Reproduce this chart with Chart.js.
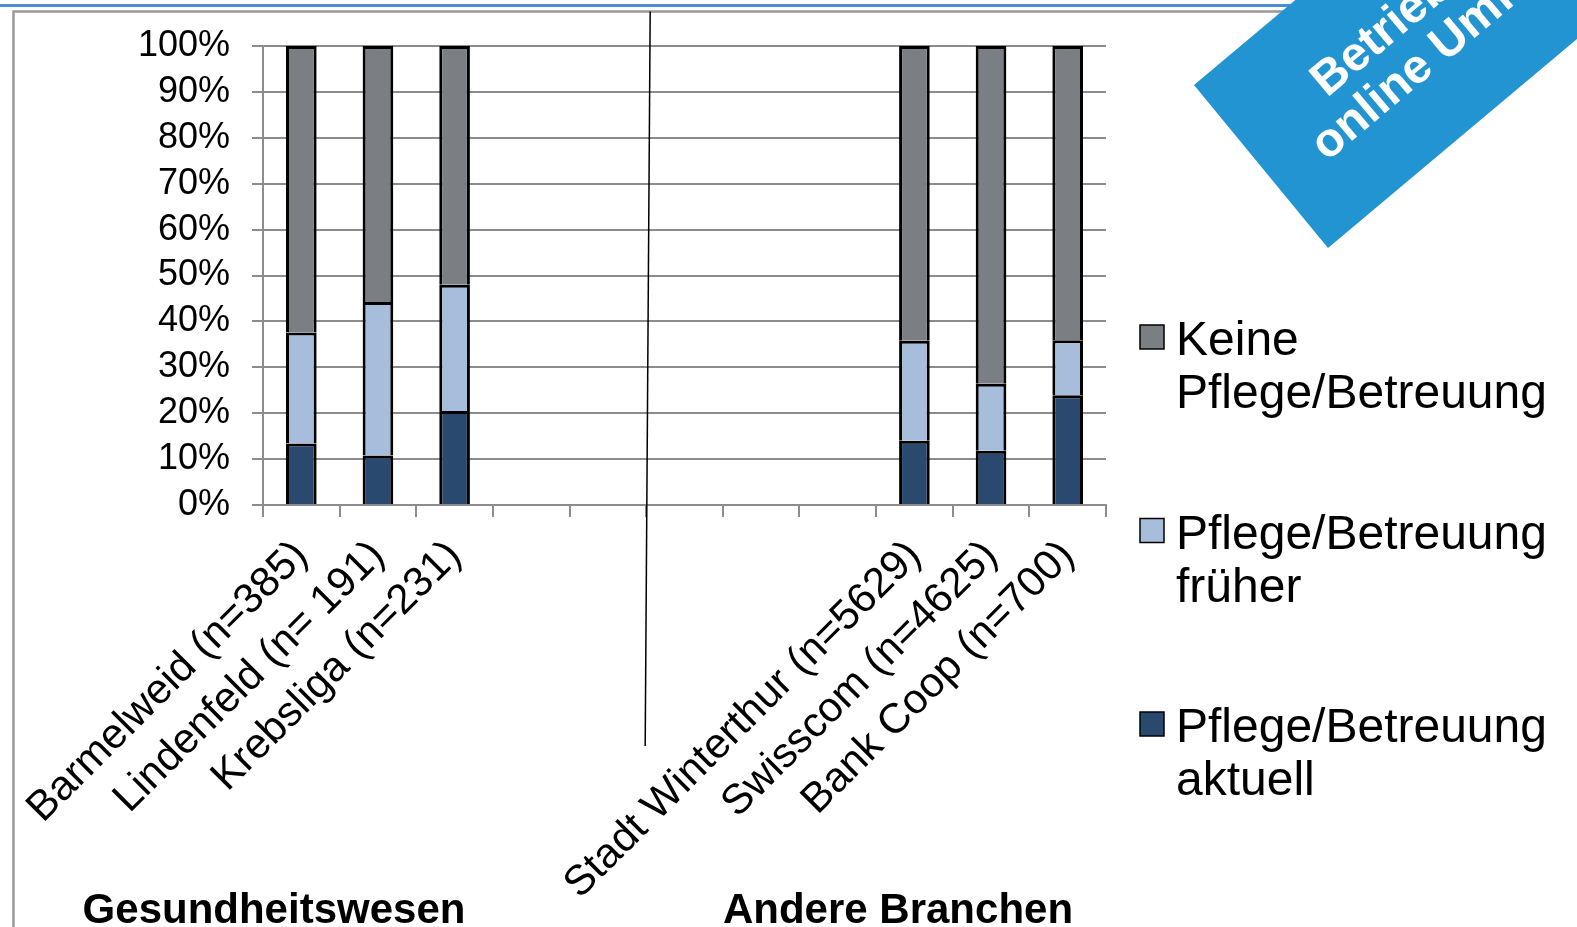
<!DOCTYPE html>
<html>
<head>
<meta charset="utf-8">
<script src="https://cdn.jsdelivr.net/npm/chart.js@4.4.1/dist/chart.umd.min.js"></script>
<style>
  html, body { margin: 0; padding: 0; background: #fff; }
  #wrap { position: relative; width: 1577px; height: 927px; }
</style>
</head>
<body>
<div id="wrap"><canvas id="chart"></canvas></div>
<script>
// Kategorien - die leeren Plätze trennen die beiden Gruppen
const categories = ['Barmelweid (n=385)', 'Lindenfeld (n= 191)', 'Krebsliga (n=231)', '', '', '', '', '',
    'Stadt Winterthur (n=5629)', 'Swisscom (n=4625)', 'Bank Coop (n=700)'];
const seriesNames = ['Pflege/Betreuung aktuell', 'Pflege/Betreuung früher', 'Keine Pflege/Betreuung'];
const seriesColors = ['#2a496e', '#a6bddb', '#7b7e83'];

// Werte in Prozent
const aktuell = [13.4, 10.8, 20.5, null, null, null, null, null, 14.0, 11.8, 23.9];
const frueher = [24.2, 33.4, 27.5, null, null, null, null, null, 21.8, 14.6, 12.0];
const keine   = [62.4, 55.8, 52.0, null, null, null, null, null, 64.2, 73.6, 64.1];

const groupNames = ['Gesundheitswesen', 'Andere Branchen'];
const bannerLines = ['Betriebliche', 'online Umfrage'];

const FONT = '"Liberation Sans", Arial, sans-serif';
Chart.defaults.font.family = FONT;
Chart.defaults.color = '#000';

function wrapText(ctx, text, maxWidth) {
    const words = text.split(' ');
    const lines = [];
    let line = '';
    words.forEach(w => {
        const test = line ? line + ' ' + w : w;
        if (line && ctx.measureText(test).width > maxWidth) {
            lines.push(line);
            line = w;
        } else {
            line = test;
        }
    });
    if (line) lines.push(line);
    return lines;
}

const decor = {
    id: 'decor',
    beforeDraw(chart) {
        const ctx = chart.ctx;
        ctx.save();
        ctx.fillStyle = '#fff';
        ctx.fillRect(0, 0, chart.width, chart.height);
        // blaue Linie oben
        ctx.fillStyle = '#4a8fd4';
        ctx.fillRect(0, 4, chart.width, 3);
        // grauer Rahmen
        ctx.strokeStyle = '#999';
        ctx.lineWidth = 2.5;
        ctx.beginPath();
        ctx.moveTo(chart.width, 11.5);
        ctx.lineTo(13.5, 11.5);
        ctx.lineTo(13.5, chart.height);
        ctx.stroke();
        ctx.restore();
    },
    afterDraw(chart) {
        const ctx = chart.ctx;
        const xs = chart.scales.x;
        ctx.save();

        // Trennlinie zwischen den Gruppen
        const xd = xs.getPixelForValue(4.5);
        ctx.strokeStyle = '#000';
        ctx.lineWidth = 1.5;
        ctx.beginPath();
        ctx.moveTo(xd + 4, 11.5);
        ctx.lineTo(xd - 1, 746);
        ctx.stroke();

        // Gruppentitel
        ctx.font = 'bold 42px ' + FONT;
        ctx.fillStyle = '#000';
        ctx.textAlign = 'center';
        ctx.textBaseline = 'alphabetic';
        ctx.fillText(groupNames[0], 274, 923);
        ctx.fillText(groupNames[1], 898, 923);

        // Legende (umgekehrte Reihenfolge)
        ctx.font = '48px ' + FONT;
        ctx.textAlign = 'left';
        [2, 1, 0].forEach((di, k) => {
            const ds = chart.data.datasets[di];
            const base = 355 + k * 193.5;
            ctx.fillStyle = ds.backgroundColor;
            ctx.fillRect(1140, base - 30, 24, 24);
            ctx.strokeStyle = '#000';
            ctx.lineWidth = 1.5;
            ctx.strokeRect(1140, base - 30, 24, 24);
            ctx.fillStyle = '#000';
            wrapText(ctx, ds.label, 395).forEach((ln, j) => {
                ctx.fillText(ln, 1176, base + j * 53);
            });
        });

        // blaues Band oben rechts
        const a = 40 * Math.PI / 180;
        const c = Math.cos(a), s = Math.sin(a);
        ctx.fillStyle = '#2294d2';
        ctx.beginPath();
        ctx.moveTo(1194, 85);
        ctx.lineTo(1328, 248);
        ctx.lineTo(1328 + 700 * c, 248 - 700 * s);
        ctx.lineTo(1194 + 700 * c, 85 - 700 * s);
        ctx.closePath();
        ctx.fill();

        ctx.translate(1327, 98);
        ctx.rotate(-a);
        ctx.font = 'bold 48px ' + FONT;
        ctx.fillStyle = '#fff';
        ctx.textAlign = 'left';
        ctx.fillText(bannerLines[0], 0, 0);
        ctx.fillText(bannerLines[1], -41, 49);
        ctx.restore();
    }
};

const datasets = [aktuell, frueher, keine].map((vals, i) => ({
    label: seriesNames[i],
    data: vals,
    backgroundColor: seriesColors[i],
    borderColor: '#000',
    borderWidth: 3,
    barPercentage: 0.4,
    categoryPercentage: 1.0
}));

new Chart(document.getElementById('chart'), {
    type: 'bar',
    data: { labels: categories, datasets: datasets },
    options: {
        responsive: true,
        maintainAspectRatio: false,
        animation: false,
        layout: { padding: { left: 0, top: 46, right: 471, bottom: 0 } },
        plugins: {
            legend: { display: false },
            tooltip: { enabled: false }
        },
        scales: {
            x: {
                stacked: true,
                grid: { display: true, drawOnChartArea: false, drawTicks: true, tickLength: 12, color: '#8c8c8c', lineWidth: 2, offset: true },
                border: { display: true, color: '#8c8c8c', width: 2 },
                ticks: { autoSkip: false, minRotation: 45, maxRotation: 45, padding: 14, color: '#000', font: { size: 42 } },
                afterFit: s => { s.height = 422; s.paddingLeft = 0; s.paddingRight = 0; }
            },
            y: {
                stacked: true,
                min: 0,
                max: 100,
                grid: { color: '#8c8c8c', lineWidth: 2, tickLength: 11 },
                border: { display: true, color: '#8c8c8c', width: 2 },
                ticks: { stepSize: 10, autoSkip: false, padding: 22, color: '#000', font: { size: 36 }, callback: v => v + '%' },
                afterFit: s => { s.width = 263; }
            }
        }
    },
    plugins: [decor]
});
</script>
</body>
</html>
